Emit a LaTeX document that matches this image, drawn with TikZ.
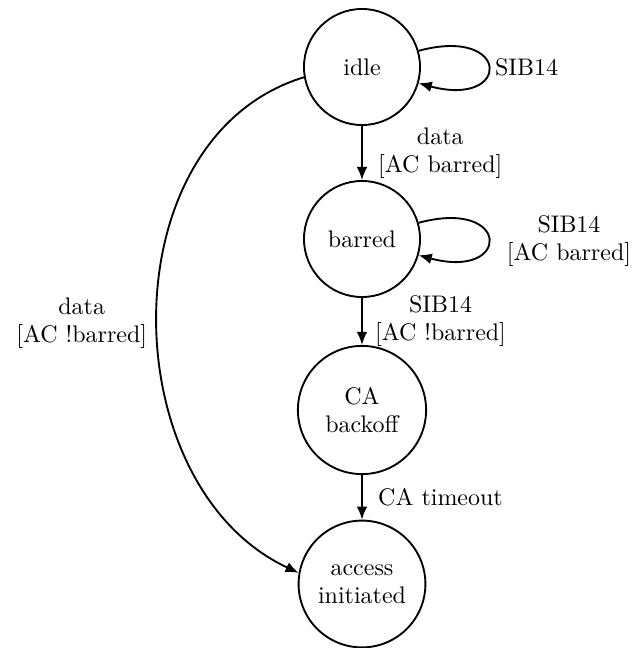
\documentclass[tikz,border=0pt]{standalone}
\usetikzlibrary{arrows.meta}
\begin{document}
\begin{tikzpicture}[x=0.4274pt, y=-0.4274pt,
  every node/.style={font=\fontsize{10.25}{12}\selectfont},
  statebox/.style={circle, draw, line width=0.8pt, inner sep=0pt, align=center},
  trans/.style={-{Latex[length=5.6pt,width=4.6pt]}, line width=0.8pt},
  lbl/.style={align=center}]
\useasboundingbox (0,0) rectangle (642,648);
\node[statebox, minimum size=49.6pt] (idle) at (362,67) {idle};
\node[statebox, minimum size=49.6pt] (barred) at (362,239) {barred};
\node[statebox, minimum size=54.8pt] (ca) at (362,410) {CA\\backoff};
\node[statebox, minimum size=54.2pt] (acc) at (362,584) {access\\initiated};
\draw[trans] (idle) -- node[lbl, anchor=west, xshift=3.2pt] {data\\{[AC barred]}} (barred);
\draw[trans] (barred) -- node[lbl, anchor=west, xshift=1.9pt] {SIB14\\{[AC !barred]}} (ca);
\draw[trans] (ca) -- node[lbl, anchor=west, xshift=3.2pt] {CA timeout} (acc);
\draw[trans] (idle.16) to[out=15, in=-15, distance=41pt] node[lbl, anchor=west, xshift=-0.8pt] {SIB14} (idle.-16);
\draw[trans] (barred.16) to[out=15, in=-15, distance=41pt] node[lbl, anchor=west, xshift=4.3pt, yshift=-1pt] {SIB14\\{[AC barred]}} (barred.-16);
\draw[trans] (idle.190) to[out=197, in=155, distance=88pt] node[lbl, anchor=east, xshift=-0.7pt, yshift=-3.4pt] {data\\{[AC !barred]}} (acc.170);
\end{tikzpicture}
\end{document}
